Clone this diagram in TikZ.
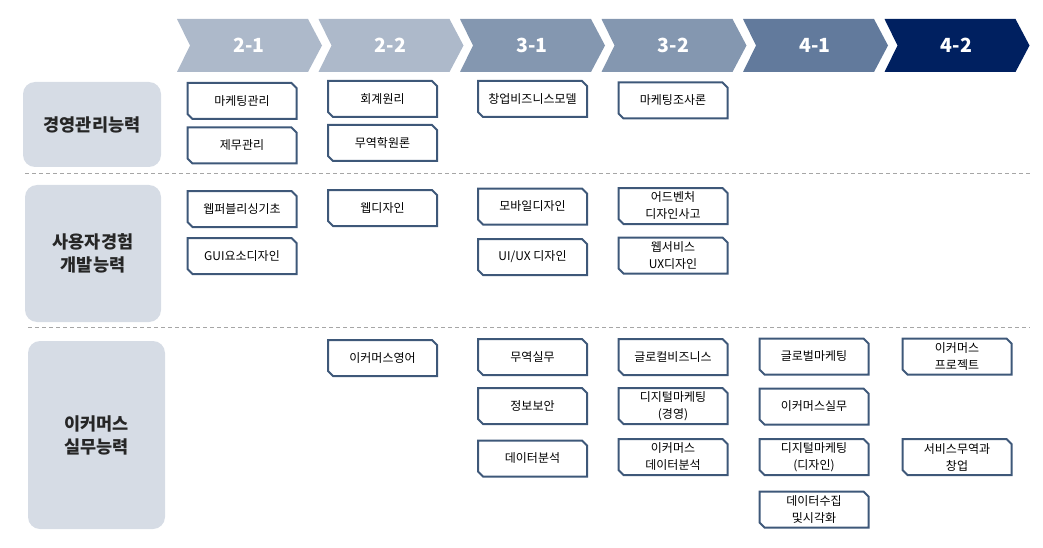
\documentclass[tikz,border=0pt]{standalone}
\usepackage{fontspec}
\setmainfont{Noto Sans CJK KR}
\definecolor{chA}{HTML}{ADB9CA}
\definecolor{chB}{HTML}{8497B0}
\definecolor{chC}{HTML}{627A9C}
\definecolor{chD}{HTML}{002060}
\definecolor{catc}{HTML}{D6DCE5}
\definecolor{boxc}{HTML}{3E5879}
\definecolor{dashc}{HTML}{A6A6A6}
\definecolor{cattext}{HTML}{262626}
\tikzset{
  course/.style={rectangle, minimum width=109pt, minimum height=36pt, outer sep=0pt,
    inner sep=0pt, align=center, font=\fontsize{12}{17}\selectfont},
  outline/.style={draw=boxc, line width=2pt, line join=miter},
  cat/.style={rounded corners=12pt, fill=catc, inner sep=0pt, align=center,
    text=cattext, font=\bfseries\fontsize{17.5}{23}\selectfont},
  chevtext/.style={text=white, font=\bfseries\fontsize{19.5}{22}\selectfont},
  sep/.style={draw=dashc, line width=1pt, dash pattern=on 4pt off 3pt}
}
\begin{document}
\begin{tikzpicture}[x=1pt,y=-1pt]
\useasboundingbox (0,0) rectangle (1043,548);
% header chevrons
\foreach \i/\lab/\col in {0/2-1/chA,1/2-2/chA,2/3-1/chB,3/3-2/chB,4/4-1/chC,5/4-2/chD}{
  \pgfmathsetmacro{\xx}{177+141.5*\i}
  \fill[\col] (\xx,19) -- ++(131,0) -- ++(14,26.5) -- ++(-14,26.5) -- ++(-131,0) -- ++(13,-26.5) -- cycle;
  \node[chevtext] (h\i) at (\xx+72,45.5) {\lab};
}
% category boxes
\node[cat, minimum width=138pt, minimum height=85pt] (catA) at (92,124.5) {경영관리능력};
\node[cat, minimum width=136pt, minimum height=137pt] (catB) at (93,253.5) {사용자경험\\개발능력};
\node[cat, minimum width=137pt, minimum height=188pt] (catC) at (96.5,435) {이커머스\\실무능력};
% separators
\coordinate (s1a) at (25,174); \coordinate (s1b) at (1030,174);
\coordinate (s2a) at (28,327); \coordinate (s2b) at (1030,327);
\draw[sep] (s1a) -- (s1b);
\draw[sep] (s2a) -- (s2b);
% row 1
\node[course] (a1) at (242,101) {마케팅관리};
\node[course] (a2) at (242,145.5) {제무관리};
\node[course] (a3) at (382.5,99) {회계원리};
\node[course] (a4) at (382.5,143) {무역학원론};
\node[course] (a5) at (532.5,99) {창업비즈니스모델};
\node[course] (a6) at (673,100.5) {마케팅조사론};
% row 2
\node[course] (b1) at (242,209) {웹퍼블리싱기초};
\node[course] (b2) at (242,256) {GUI요소디자인};
\node[course] (b3) at (382.5,208) {웹디자인};
\node[course] (b4) at (532.5,206.5) {모바일디자인};
\node[course] (b5) at (532.5,257) {UI/UX 디자인};
\node[course] (b6) at (673,206) {어드벤처\\디자인사고};
\node[course] (b7) at (673,255.5) {웹서비스\\UX디자인};
% row 3
\node[course] (c1) at (382.5,358) {이커머스영어};
\node[course] (c2) at (532.5,357) {무역실무};
\node[course] (c3) at (532.5,406) {정보보안};
\node[course] (c4) at (532.5,458.5) {데이터분석};
\node[course] (c5) at (673,357) {글로컬비즈니스};
\node[course] (c6) at (673,406) {디지털마케팅\\(경영)};
\node[course] (c7) at (673,457) {이커머스\\데이터분석};
\node[course] (c8) at (814,356.5) {글로벌마케팅};
\node[course] (c9) at (814,406.5) {이커머스실무};
\node[course] (c10) at (814,457) {디지털마케팅\\(디자인)};
\node[course] (c11) at (814,509.5) {데이터수집\\및시각화};
\node[course] (c12) at (957,356.5) {이커머스\\프로젝트};
\node[course] (c13) at (957,457) {서비스무역과\\창업};
% snipped outlines of the course boxes
\foreach \n in {a1,a2,a3,a4,a5,a6,b1,b2,b3,b4,b5,b6,b7,c1,c2,c3,c4,c5,c6,c7,c8,c9,c10,c11,c12,c13}{
  \draw[outline] (\n.north west) -- ([xshift=-5pt]\n.north east) -- ([yshift=-5pt]\n.north east)
    -- (\n.south east) -- ([xshift=5pt]\n.south west) -- ([yshift=5pt]\n.south west) -- cycle;
}
\end{tikzpicture}
\end{document}
